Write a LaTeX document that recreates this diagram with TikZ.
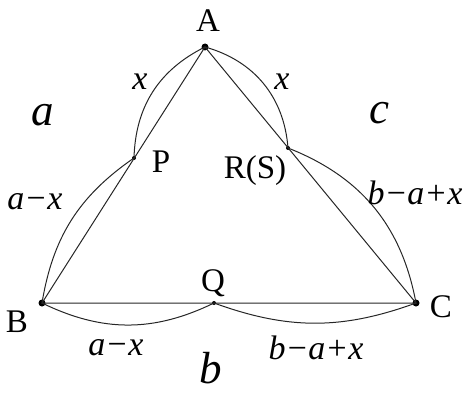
\documentclass[tikz,border=0pt]{standalone}
\usepackage{fontspec}
\setmainfont{Liberation Serif}
\usetikzlibrary{positioning}

\begin{document}
\begin{tikzpicture}[x=1pt,y=1pt,
  edge/.style={draw=black!85, line width=1pt},
  bigdot/.style={fill=black, circle, inner sep=0pt, minimum size=7pt},
  smalldot/.style={fill=black, circle, inner sep=0pt, minimum size=4pt},
  pt/.style={font=\fontsize{33}{35}\selectfont, inner sep=0pt},
  len/.style={font=\fontsize{34}{36}\selectfont\itshape, inner sep=0pt},
  side/.style={font=\fontsize{45}{47}\selectfont\itshape, inner sep=0pt}]
\useasboundingbox (0,0) rectangle (464,392);
% vertices and points on the sides
\node[bigdot] (A) at (205,345) {};
\node[bigdot] (B) at (42,89) {};
\node[bigdot] (C) at (416,89) {};
\node[smalldot] (P) at (134,234) {};
\node[smalldot] (R) at (288,244) {};
\node[smalldot] (Q) at (214,89) {};
% triangle
\draw[edge] (A.center) -- (B.center) -- (C.center) -- cycle;
% arcs
\draw[edge] (A.center) to[bend right=31] (P.center);
\draw[edge] (P.center) to[bend right=23] (B.center);
\draw[edge] (B.center) to[bend right=26] (Q.center);
\draw[edge] (Q.center) to[bend right=20] (C.center);
\draw[edge] (C.center) to[bend right=29] (R.center);
\draw[edge] (R.center) to[bend right=35] (A.center);
% point labels
\node[pt] (lA) at (208,371) {A};
\node[pt] (lB) at (17,70) {B};
\node[pt] (lC) at (441,85) {C};
\node[pt] (lP) at (161,230) {P};
\node[pt] (lR) at (255,221) {R(S)};
\node[pt] (lQ) at (213,109) {Q};
% lengths
\node[len] (xAP) at (140,310) {x};
\node[len] (xAR) at (282,310) {x};
\node[len] (lPB) at (35,190) {a−x};
\node[len] (lBQ) at (116,44) {a−x};
\node[len] (lRC) at (415,199) {b−a+x};
\node[len] (lQC) at (316,44) {b−a+x};
% sides
\node[side] (sa) at (43,277) {a};
\node[side] (sc) at (379,279) {c};
\node[side, anchor=base] (sb) at (211,9) {b};
\end{tikzpicture}
\end{document}
